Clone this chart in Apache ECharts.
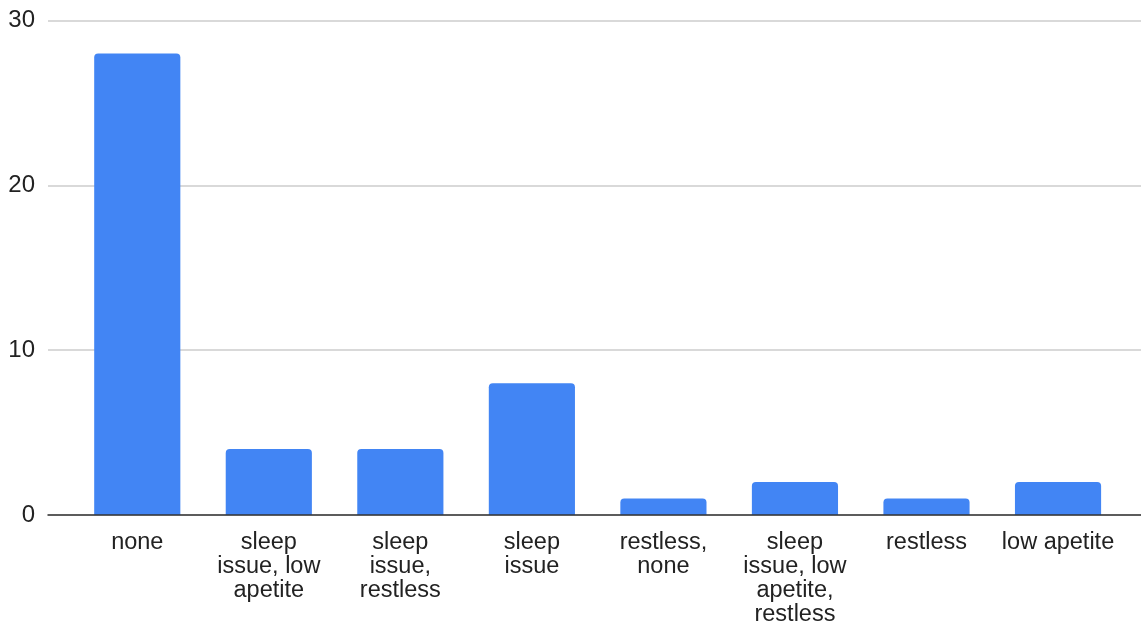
<!DOCTYPE html>
<html>
<head>
<meta charset="utf-8">
<script src="https://cdn.jsdelivr.net/npm/echarts@6/dist/echarts.min.js"></script>
<style>
html,body{margin:0;padding:0;background:#fff;}
#chart{width:1141px;height:622px;}
</style>
</head>
<body>
<div id="chart"></div>
<script>
const categories = [
  "none",
  "sleep\nissue, low\napetite",
  "sleep\nissue,\nrestless",
  "sleep\nissue",
  "restless,\nnone",
  "sleep\nissue, low\napetite,\nrestless",
  "restless",
  "low apetite"
];
const counts = [28, 4, 4, 8, 1, 2, 1, 2];
const yMin = 0, yMax = 30, yStep = 10;

const chart = echarts.init(document.getElementById('chart'));
const fontFamily = 'Arial, "Liberation Sans", sans-serif';
chart.setOption({
  animation: false,
  backgroundColor: '#fff',
  grid: [
    { left: 48, right: 0, top: 20.5, bottom: 107, outerBoundsMode: 'none', containLabel: false },
    { left: 71.5, right: 17.2, top: 20.5, bottom: 107, outerBoundsMode: 'none', containLabel: false }
  ],
  xAxis: [
    {
      gridIndex: 0, type: 'value', min: 0, max: 1,
      axisLine: { show: true, lineStyle: { color: '#333', width: 1.5 } },
      axisTick: { show: false }, axisLabel: { show: false }, splitLine: { show: false },
      z: 5
    },
    {
      gridIndex: 1, type: 'category', data: categories,
      axisLine: { show: false }, axisTick: { show: false },
      axisLabel: {
        interval: 0, margin: 16, color: '#222', fontSize: 23.5,
        fontFamily: fontFamily, lineHeight: 24, align: 'center', verticalAlign: 'top'
      }
    }
  ],
  yAxis: [
    {
      gridIndex: 0, type: 'value', min: yMin, max: yMax, interval: yStep,
      axisLine: { show: false }, axisTick: { show: false },
      axisLabel: { margin: 13, color: '#222', fontSize: 24, fontFamily: fontFamily, padding: [3, 0, 0, 0] },
      splitLine: { lineStyle: { color: '#cccccc', width: 1.5 } }
    },
    {
      gridIndex: 1, type: 'value', min: yMin, max: yMax, interval: yStep, show: false
    }
  ],
  series: [
    {
      type: 'bar', xAxisIndex: 1, yAxisIndex: 1, data: counts,
      barWidth: '65.5%',
      itemStyle: { color: '#4285F4', borderRadius: [4, 4, 0, 0] },
      z: 3
    }
  ]
});
</script>
</body>
</html>
